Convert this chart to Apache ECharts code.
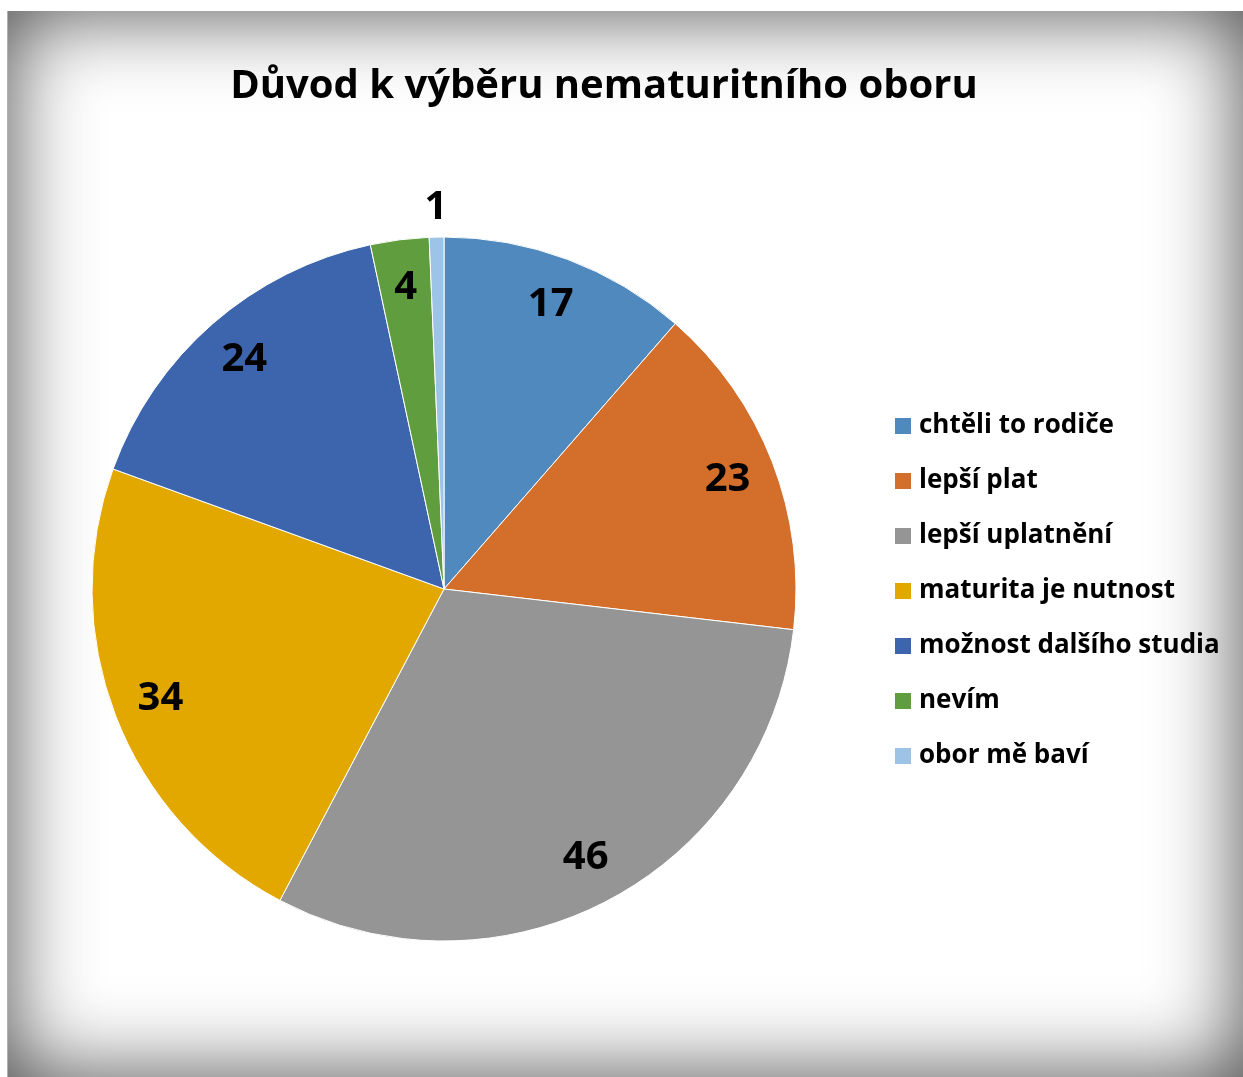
<!DOCTYPE html>
<html>
<head>
<meta charset="utf-8">
<script src="https://cdn.jsdelivr.net/npm/echarts@6/dist/echarts.min.js"></script>
<style>
    html, body { margin: 0; padding: 0; background: #fff; }
    #frame {
        position: absolute; left: 7px; top: 11px; width: 1236px; height: 1066px;
        background: #fff;
        box-shadow: inset 0 0 85px rgba(0, 0, 0, 0.72);
        border-left: 1px solid #b0b0b0;
        box-sizing: border-box;
    }
    #main { position: absolute; left: 0; top: 0; width: 1236px; height: 1066px; }
</style>
</head>
<body>
<div id="frame"><div id="main"></div></div>
<script>
// kategorie a hodnoty
var categories = ['chtěli to rodiče', 'lepší plat', 'lepší uplatnění', 'maturita je nutnost', 'možnost dalšího studia', 'nevím', 'obor mě baví'];
var values = [17, 23, 46, 34, 24, 4, 1];
var palette = ['#4F89BD', '#D36E2B', '#959595', '#E3A800', '#3D65AE', '#5F9D3E', '#9DC3E6'];

var pieData = categories.map(function (name, i) {
    return { name: name, value: values[i] };
});
// popisky uvnitr; male vysece maji popisek az nad kruhem
var innerLabels = categories.map(function (name, i) {
    return { name: name, value: values[i], label: { show: values[i] >= 2 } };
});
var outerLabels = categories.map(function (name, i) {
    return { name: name, value: values[i], label: { show: values[i] < 2 } };
});

var font = '"Open Sans", Lato, sans-serif';
var labelStyle = {
    position: 'inside',
    formatter: '{c}',
    fontFamily: font,
    fontWeight: 'bold',
    fontSize: 40,
    color: '#000'
};

var chart = echarts.init(document.getElementById('main'));
chart.setOption({
    color: palette,
    animation: false,
    title: {
        text: 'Důvod k výběru nematuritního oboru',
        left: 591,
        textAlign: 'center',
        top: 51,
        textStyle: { fontFamily: font, fontWeight: 'bold', fontSize: 40, color: '#000' }
    },
    legend: {
        orient: 'vertical',
        left: 880,
        top: 397,
        icon: 'rect',
        itemWidth: 18,
        itemHeight: 18,
        itemGap: 29,
        data: categories,
        textStyle: { fontFamily: font, fontWeight: 'bold', fontSize: 26, color: '#000', padding: [0, 0, 0, 2] }
    },
    series: [{
        type: 'pie',
        center: [436, 578],
        radius: [0, 352],
        startAngle: 90,
        clockwise: true,
        label: { show: false },
        labelLine: { show: false },
        itemStyle: { borderColor: '#fff', borderWidth: 1 },
        silent: true,
        data: pieData
    }, {
        type: 'pie',
        center: [436, 578],
        radius: [254, 348],
        startAngle: 90,
        clockwise: true,
        silent: true,
        itemStyle: { color: 'rgba(0,0,0,0)' },
        label: labelStyle,
        labelLine: { show: false },
        data: innerLabels
    }, {
        type: 'pie',
        center: [436, 578],
        radius: [366, 390],
        startAngle: 90,
        clockwise: true,
        silent: true,
        itemStyle: { color: 'rgba(0,0,0,0)' },
        label: labelStyle,
        labelLine: { show: false },
        data: outerLabels
    }]
});
</script>
</body>
</html>
